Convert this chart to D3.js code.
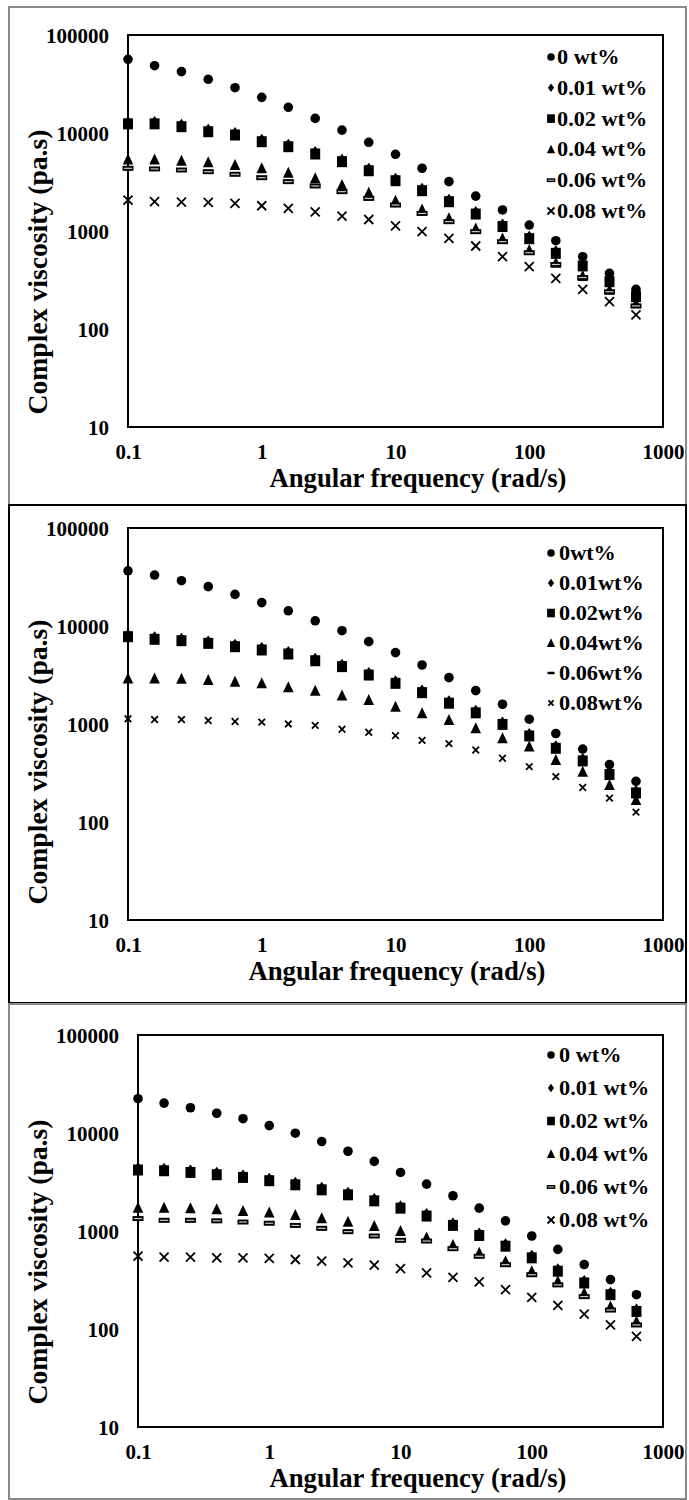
<!DOCTYPE html>
<html><head><meta charset="utf-8">
<script src="https://cdn.jsdelivr.net/npm/d3@7"></script>
<style>
body{margin:0;background:#fff}
svg{display:block}
text{font-family:"Liberation Serif","Times New Roman",Tinos,"DejaVu Serif","Noto Serif",serif;font-weight:bold;fill:#000}
</style>
</head><body>
<svg id="chart" width="689" height="1500"></svg>
<script>
// ---------- data ----------
const freq = [0.1,0.158,0.251,0.398,0.631,1,1.58,2.51,3.98,6.31,10,15.8,25.1,39.8,63.1,100,158,251,398,628];
const xTicks = [0.1,1,10,100,1000];
const yTicks = [10,100,1000,10000,100000];
const namesSpaced = ["0 wt%","0.01 wt%","0.02 wt%","0.04 wt%","0.06 wt%","0.08 wt%"];
const namesTight = ["0wt%","0.01wt%","0.02wt%","0.04wt%","0.06wt%","0.08wt%"];
const xTitle = "Angular frequency (rad/s)";
const yTitle = "Complex viscosity (pa.s)";

// panel 1
const p1_w000 = [56500,48600,42300,35300,29000,23100,18300,14100,10700,8040,6060,4370,3190,2270,1640,1150,796,547,370,254];
const p1_w001 = [13140,13140,12300,10920,10110,8640,7690,6480,5410,4370,3460,2730,2110,1580,1180,885,628,466,322,227];
const p1_w002 = [12400,12400,11600,10300,9540,8150,7250,6110,5100,4120,3260,2580,1990,1490,1110,835,592,440,304,214];
const p1_w004 = [5380,5350,5220,5020,4710,4360,3940,3450,2950,2460,2040,1660,1350,1060,840,640,475,348,252,183];
const p1_w006 = [4360,4300,4190,4030,3790,3500,3190,2880,2520,2150,1840,1510,1245,985,778,600,455,335,240,172];
const p1_w008 = [2070,1990,1970,1960,1910,1810,1700,1570,1420,1310,1130,985,841,703,547,432,329,254,190,139];

// panel 2
const p2_w000 = [36600,33100,29000,25200,21000,17300,14300,11300,8950,6920,5350,4000,2970,2190,1590,1120,800,555,385,260];
const p2_w001 = [8250,7750,7500,7050,6520,6030,5490,4690,4080,3350,2760,2220,1730,1380,1050,800,600,445,325,210];
const p2_w002 = [7780,7310,7080,6650,6150,5690,5180,4420,3850,3160,2600,2090,1630,1300,990,755,565,420,305,198];
const p2_w004 = [2920,2920,2890,2810,2700,2600,2370,2190,1950,1760,1500,1290,1100,904,714,588,430,326,239,168];
const p2_w006 = [7620,7160,6940,6520,6030,5580,5080,4330,3770,3100,2550,2050,1600,1270,970,740,555,410,300,194];
const p2_w008 = [1130,1110,1110,1086,1060,1045,1001,968,884,823,762,680,630,543,447,367,290,225,175,126];

// panel 3
const p3_w000 = [22400,20200,18100,15900,14000,11900,9950,8180,6510,5130,3960,3010,2290,1710,1270,889,649,455,319,224];
const p3_w001 = [4440,4370,4200,3980,3730,3460,3140,2790,2480,2150,1810,1510,1210,955,742,564,412,313,237,160];
const p3_w002 = [4190,4120,3960,3750,3520,3260,2960,2630,2340,2030,1710,1420,1140,900,700,532,389,295,224,151];
const p3_w004 = [1730,1730,1710,1670,1600,1540,1460,1350,1245,1125,1000,857,718,600,492,389,307,233,170,119];
const p3_w006 = [1340,1285,1285,1270,1235,1200,1140,1065,985,889,804,790,660,552,453,358,282,214,156,110];
const p3_w008 = [555,541,541,532,532,525,512,492,473,448,414,373,337,302,252,210,174,142,110,84];

// ---------- layout ----------
const FONT = '"Liberation Serif","Times New Roman",Tinos,"DejaVu Serif","Noto Serif",serif';
const panels = [
  {frame:{x0:9,y0:7,x1:686,y1:505,color:"#8a8a8a"},
   plot:{l:128,t:35,r:663,b:427},
   series:[p1_w000,p1_w001,p1_w002,p1_w004,p1_w006,p1_w008],
   names:namesSpaced, legendX:551, legendTextX:557, legendY0:57, legendDy:30.8, legendFont:21,
   yTitleY:272, xTitleX:418, dashSolid:false, crossR:4.5},
  {frame:{x0:9,y0:505,x1:686,y1:1003,color:"#000"},
   plot:{l:128,t:528,r:663,b:920},
   series:[p2_w000,p2_w001,p2_w002,p2_w004,p2_w006,p2_w008],
   names:namesTight, legendX:551, legendTextX:559, legendY0:553, legendDy:30, legendFont:21,
   yTitleY:762, xTitleX:397, dashSolid:true, crossR:3.3},
  {frame:{x0:9,y0:1004,x1:686,y1:1499,color:"#8a8a8a"},
   plot:{l:138,t:1035,r:663,b:1427},
   series:[p3_w000,p3_w001,p3_w002,p3_w004,p3_w006,p3_w008],
   names:namesSpaced, legendX:551, legendTextX:559, legendY0:1055, legendDy:33, legendFont:21,
   yTitleY:1262, xTitleX:418, dashSolid:false, crossR:4.5}
];

const svg = d3.select("#chart");

function drawMarker(g, kind, s, cfg){
  if(kind===0){
    g.append("circle").attr("r",4.8*s).attr("fill","#000");
  } else if(kind===1){
    g.append("path").attr("d",`M0,${-5.5*s}L${4*s},0L0,${5.5*s}L${-4*s},0Z`).attr("fill","#000");
  } else if(kind===2){
    g.append("path").attr("d",`M${-5*s},${-5.5*s}h${10*s}v${11*s}h${-10*s}Z`).attr("fill","#000");
  } else if(kind===3){
    g.append("path").attr("d",`M0,${-6*s}L${5.3*s},${5*s}L${-5.3*s},${5*s}Z`).attr("fill","#000");
  } else if(kind===4){
    if(cfg.dashSolid){
      g.append("rect").attr("x",-4.5*s).attr("y",-1.6*s).attr("width",9*s).attr("height",3.2*s).attr("fill","#000");
    } else {
      g.append("rect").attr("x",-5.5*s).attr("y",-2.5*s).attr("width",11*s).attr("height",5*s).attr("fill","#000");
      g.append("rect").attr("x",-4*s).attr("y",-0.6*s).attr("width",8*s).attr("height",1.2*s).attr("fill","#c8c8c8");
    }
  } else {
    const r = cfg.crossR*s;
    g.append("path").attr("d",`M${-r},${-r}L${r},${r}M${-r},${r}L${r},${-r}`)
      .attr("stroke","#000").attr("stroke-width",1.8).attr("fill","none");
  }
}

function stretch(sel, k){
  sel.each(function(){
    const w = this.getComputedTextLength();
    d3.select(this).attr("textLength", w*k).attr("lengthAdjust","spacingAndGlyphs");
  });
}

panels.forEach(cfg=>{
  const f = cfg.frame, p = cfg.plot;
  svg.append("rect").attr("x",f.x0).attr("y",f.y0).attr("width",f.x1-f.x0).attr("height",f.y1-f.y0)
    .attr("fill","none").attr("stroke",f.color).attr("stroke-width",2);

  const x = d3.scaleLog().domain([0.1,1000]).range([p.l,p.r]);
  const y = d3.scaleLog().domain([10,100000]).range([p.b,p.t]);

  const gx = svg.append("g").attr("transform",`translate(0,${p.b})`)
    .call(d3.axisBottom(x).tickValues(xTicks).tickSize(0).tickFormat(d=>String(d)));
  gx.attr("font-family",null).attr("font-size",null);
  gx.select(".domain").remove();
  gx.selectAll("text").attr("y",32).attr("dy",0).style("font-size","21px")
    .style("font-family",FONT).style("font-weight","bold");

  const gy = svg.append("g").attr("transform",`translate(${p.l},0)`)
    .call(d3.axisLeft(y).tickValues(yTicks).tickSize(0).tickFormat(d=>String(d)));
  gy.attr("font-family",null).attr("font-size",null);
  gy.select(".domain").remove();
  gy.selectAll("text").attr("x",-19).attr("dy","0.34em").style("font-size","21px")
    .style("font-family",FONT).style("font-weight","bold");

  svg.append("rect").attr("x",p.l).attr("y",p.t).attr("width",p.r-p.l).attr("height",p.b-p.t)
    .attr("fill","none").attr("stroke","#000").attr("stroke-width",2);

  cfg.series.forEach((vals,si)=>{
    const g = svg.append("g");
    vals.forEach((v,i)=>{
      const m = g.append("g").attr("transform",`translate(${x(freq[i])},${y(v)})`);
      drawMarker(m, si, 1, cfg);
    });
  });

  cfg.names.forEach((nm,si)=>{
    const cy = cfg.legendY0 + si*cfg.legendDy;
    const m = svg.append("g").attr("transform",`translate(${cfg.legendX},${cy})`);
    drawMarker(m, si, 0.78, cfg);
    const t = svg.append("text").attr("x",cfg.legendTextX).attr("y",cy+7)
      .style("font-size",cfg.legendFont+"px").text(nm);
    stretch(t,1.06);
  });

  svg.append("text").attr("x",cfg.xTitleX).attr("y",p.b+60).attr("text-anchor","middle")
    .style("font-size","26.5px").attr("textLength",297).attr("lengthAdjust","spacingAndGlyphs").text(xTitle);
  svg.append("text").attr("transform",`translate(47,${cfg.yTitleY}) rotate(-90)`)
    .attr("text-anchor","middle").style("font-size","26.5px")
    .attr("textLength",285).attr("lengthAdjust","spacingAndGlyphs").text(yTitle);
});
</script>
</body></html>
